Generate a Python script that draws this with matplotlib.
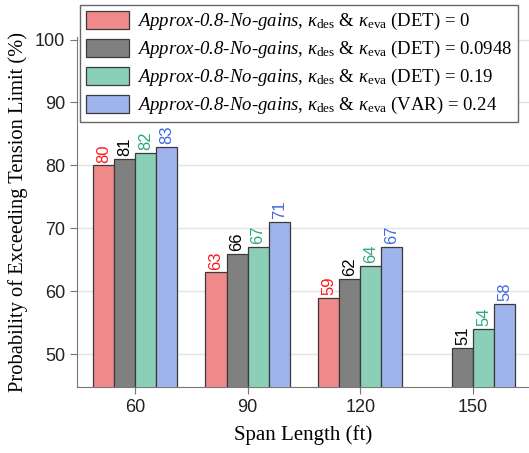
import numpy as np
import matplotlib
matplotlib.use('Agg')
import matplotlib.pyplot as plt

plt.rcParams['mathtext.fontset'] = 'custom'
plt.rcParams['mathtext.rm'] = 'Liberation Serif'
plt.rcParams['mathtext.it'] = 'Liberation Serif:italic'
plt.rcParams['mathtext.cal'] = 'Liberation Serif:italic'
plt.rcParams['mathtext.bf'] = 'Liberation Serif:bold'

# Data
spans = [60, 90, 120, 150]
det_0 = [80, 63, 59, np.nan]
det_0948 = [81, 66, 62, 51]
det_019 = [82, 67, 64, 54]
var_024 = [83, 71, 67, 58]

series = [det_0, det_0948, det_019, var_024]
prefix = r'$\mathcal{Approx}$-$\mathcal{0.8}$-$\mathcal{No}$-$\mathcal{gains}$, '
kap = r'$\kappa_{\rm des}$ & $\kappa_{\rm eva}$'
labels = [
    prefix + kap + ' (DET) = 0',
    prefix + kap + ' (DET) = 0.0948',
    prefix + kap + ' (DET) = 0.19',
    prefix + kap + ' (VAR) = 0.24',
]
fills = ['#f08a8a', '#808080', '#8ccfb8', '#9fb3ec']
text_colors = ['#ff1a1a', '#000000', '#2ca87f', '#4169e1']

fig = plt.figure(figsize=(5.29, 4.53), dpi=100)
ax = fig.add_axes([77 / 529, 66 / 453, 452 / 529, 350 / 453])

width = 5.6
for i, (vals, fc, tc, lab) in enumerate(zip(series, fills, text_colors, labels)):
    x = np.array(spans) + (i - 1.5) * width
    ax.bar(x, vals, width=width, color=fc, edgecolor='#3a3a3a', linewidth=0.9,
           label=lab, zorder=3)
    for xi, v in zip(x, vals):
        if np.isnan(v):
            continue
        ax.annotate(f'{v:.0f}', (xi, v), xytext=(0, 2), textcoords='offset points',
                    ha='center', va='bottom', rotation=90, color=tc,
                    fontsize=12, family='Liberation Sans')

ax.set_xlim(44.6, 164.9)
ax.set_ylim(44.8, 100.4)
ax.set_xticks(spans)
ax.set_yticks([50, 60, 70, 80, 90, 100])
ax.grid(axis='y', color='#e3e3e3', linewidth=1, zorder=0)
ax.set_axisbelow(True)
for s in ['top', 'right']:
    ax.spines[s].set_visible(False)
for s in ['left', 'bottom']:
    ax.spines[s].set_color('#777777')
ax.tick_params(colors='#777777', length=5, labelcolor='#222222', labelsize=13)
for t in ax.get_xticklabels() + ax.get_yticklabels():
    t.set_family('Liberation Sans')

ax.set_xlabel('Span Length (ft)', family='Liberation Serif', fontsize=15, labelpad=7)
ax.set_ylabel('Probability of Exceeding Tension Limit (%)', family='Liberation Serif',
              fontsize=14.8, labelpad=5)

leg = fig.legend(loc='upper left', bbox_to_anchor=(80 / 529, 1 - 5 / 453),
                 borderaxespad=0, fancybox=False, edgecolor='#666666', framealpha=1,
                 prop={'family': 'Liberation Serif', 'size': 13.5},
                 handlelength=2.3, handleheight=1.1, handletextpad=0.45,
                 labelspacing=0.35, borderpad=0.3)
leg.get_frame().set_linewidth(1)

fig.savefig('out.png', dpi=100)
